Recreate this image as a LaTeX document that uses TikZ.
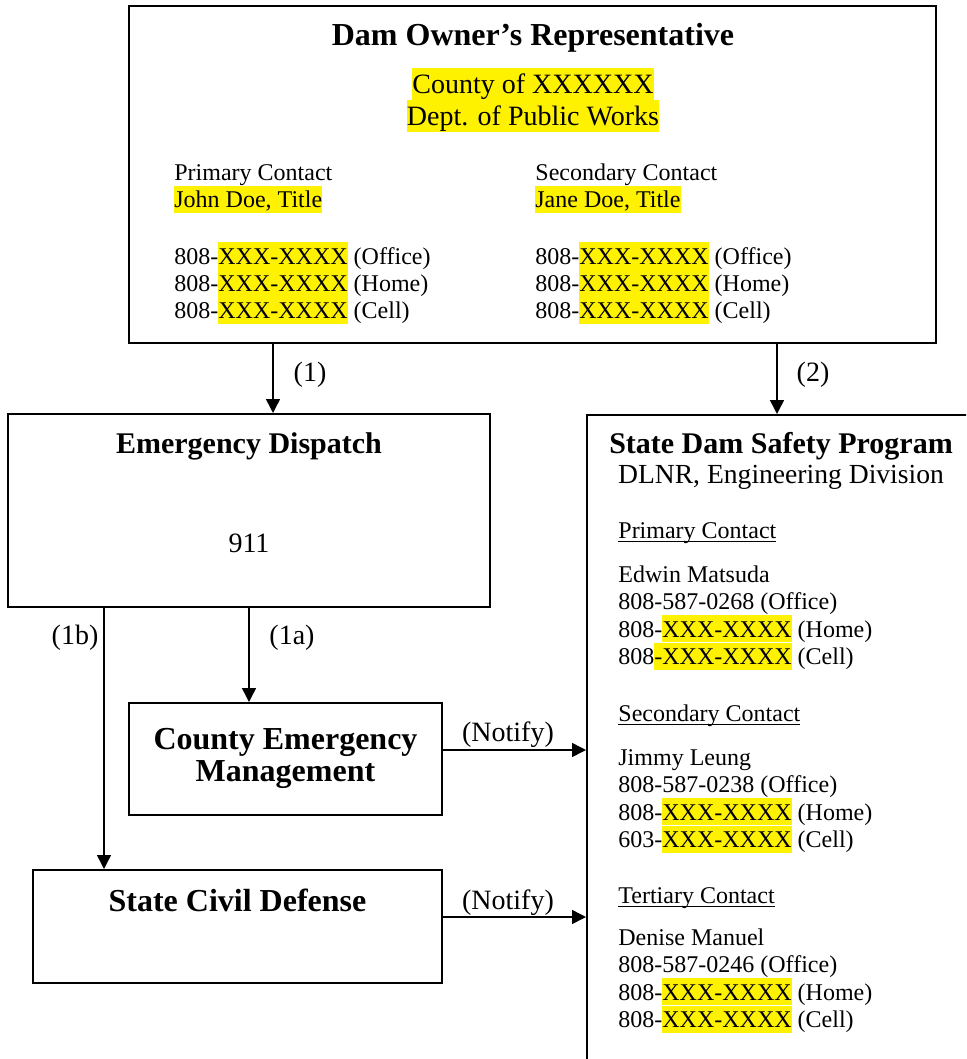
\documentclass[tikz,border=0pt]{standalone}
\usepackage{fontspec}
\setmainfont{Liberation Serif}
\usepackage{tikz}
\usetikzlibrary{arrows.meta, calc, positioning}

\newcommand{\hlt}[1]{{\setlength{\fboxsep}{0pt}\colorbox{yellow}{\rule[-0.2\baselineskip]{0pt}{\baselineskip}#1}}}
\newcommand{\ulin}[1]{\setbox0\hbox{#1}\rlap{\rule[-2pt]{\wd0}{0.55pt}}\box0}
\newcommand{\fsm}{\fontsize{12}{13.7}\selectfont}
\newcommand{\fmd}{\fontsize{14}{16}\selectfont}
\newcommand{\fhd}{\fontsize{15}{17}\selectfont\bfseries}
\newcommand{\fbg}{\fontsize{16}{16}\selectfont\bfseries}

\begin{document}
\begin{tikzpicture}[x=0.5pt, y=-0.5pt,
    box/.style={draw, line width=1pt, inner sep=0pt},
    arr/.style={line width=0.75pt, -{Triangle[length=7pt, width=7pt]}},
    txt/.style={anchor=base west, inner sep=0pt, font=\fsm},
    lbl/.style={anchor=base, inner sep=0pt, font=\fmd},
    head/.style={anchor=base, inner sep=0pt, font=\fhd},
    big/.style={anchor=base, inner sep=0pt, font=\fbg}
  ]
  \useasboundingbox (0,0) rectangle (966,1059);
  \clip (0,0) rectangle (966,1059);

  % boxes
  \node[box, minimum width=403.5pt, minimum height=168.5pt] (owner) at (532.5,174.5) {};
  \node[box, minimum width=241pt, minimum height=96.5pt] (dispatch) at (249,510.5) {};
  \node[box, anchor=north west, minimum width=260pt, minimum height=400pt] (dam) at (586,414) {};
  \node[box, minimum width=156.5pt, minimum height=56pt] (county) at (285.5,759) {};
  \node[box, minimum width=204.5pt, minimum height=56.5pt] (civil) at (237.5,926.5) {};

  % dam owner
  \node[big] (ownt) at (533,46) {Dam Owner’s Representative};
  \node[lbl] (own1) at (533,94) {\hlt{County of XXXXXX}};
  \node[lbl] (own2) at (533,126) {\hlt{Dept. of Public Works}};
  \node[txt] (pc) at (174,181) {Primary Contact};
  \node[txt] (pn) at (174,208) {\hlt{John Doe, Title}};
  \node[txt] (sc) at (535,181) {Secondary Contact};
  \node[txt] (sn) at (535,208) {\hlt{Jane Doe, Title}};
  \foreach \kind [count=\i from 0] in {Office, Home, Cell} {
    \node[txt] (pp\i) at (174,264+27.3*\i) {808-\hlt{XXX-XXXX} (\kind)};
    \node[txt] (sp\i) at (535,264+27.3*\i) {808-\hlt{XXX-XXXX} (\kind)};
  }

  % dispatch, county, civil defense
  \node[head] (dispt) at (249,453) {Emergency Dispatch};
  \node[lbl] (disp9) at (249,552) {911};
  \node[big] (cty1) at (285.5,749) {County Emergency};
  \node[big] (cty2) at (285.5,781) {Management};
  \node[big] (cvl) at (237.5,911) {State Civil Defense};

  % dam safety program
  \node[head] (damt) at (781,453) {State Dam Safety Program};
  \node[lbl, font=\fontsize{13.8}{16}\selectfont] (dams) at (781,483) {DLNR, Engineering Division};
  \node[txt] (c1) at (618,538) {\ulin{Primary Contact}};
  \foreach \ln [count=\i from 0] in {{Edwin Matsuda}, {808-587-0268 (Office)}, {808-\hlt{XXX-XXXX} (Home)}, {808\hlt{-XXX-XXXX} (Cell)}}
    \node[txt] (c1-\i) at (618,582+27.5*\i) {\ln};
  \node[txt] (c2) at (618,721) {\ulin{Secondary Contact}};
  \foreach \ln [count=\i from 0] in {{Jimmy Leung}, {808-587-0238 (Office)}, {808-\hlt{XXX-XXXX} (Home)}, {603-\hlt{XXX-XXXX} (Cell)}}
    \node[txt] (c2-\i) at (618,765+27.5*\i) {\ln};
  \node[txt] (c3) at (618,903) {\ulin{Tertiary Contact}};
  \foreach \ln [count=\i from 0] in {{Denise Manuel}, {808-587-0246 (Office)}, {808-\hlt{XXX-XXXX} (Home)}, {808-\hlt{XXX-XXXX} (Cell)}}
    \node[txt] (c3-\i) at (618,945+27.5*\i) {\ln};

  % connectors
  \node[lbl] (l1) at (310,381) {(1)};
  \node[lbl] (l2) at (813,381) {(2)};
  \node[lbl] (l1b) at (75,644) {(1b)};
  \node[lbl] (l1a) at (292,644) {(1a)};
  \node[lbl] (n1) at (508,741) {(Notify)};
  \node[lbl] (n2) at (508,909) {(Notify)};
  \coordinate (a1) at ($(owner.south west)+(145,0)$);
  \coordinate (a2) at ($(owner.south west)+(649,0)$);
  \coordinate (a1b) at ($(dispatch.south west)+(97,0)$);
  \coordinate (a3) at ($(county.north east)+(0,48)$);
  \coordinate (a4) at ($(civil.north east)+(0,48)$);
  \draw[arr] (a1) -- (a1 |- dispatch.north);
  \draw[arr] (a2) -- (a2 |- dam.north);
  \draw[arr] (a1b) -- (a1b |- civil.north);
  \draw[arr] (dispatch.south) -- (dispatch.south |- county.north);
  \draw[arr] (a3) -- (a3 -| dam.west);
  \draw[arr] (a4) -- (a4 -| dam.west);
\end{tikzpicture}
\end{document}
